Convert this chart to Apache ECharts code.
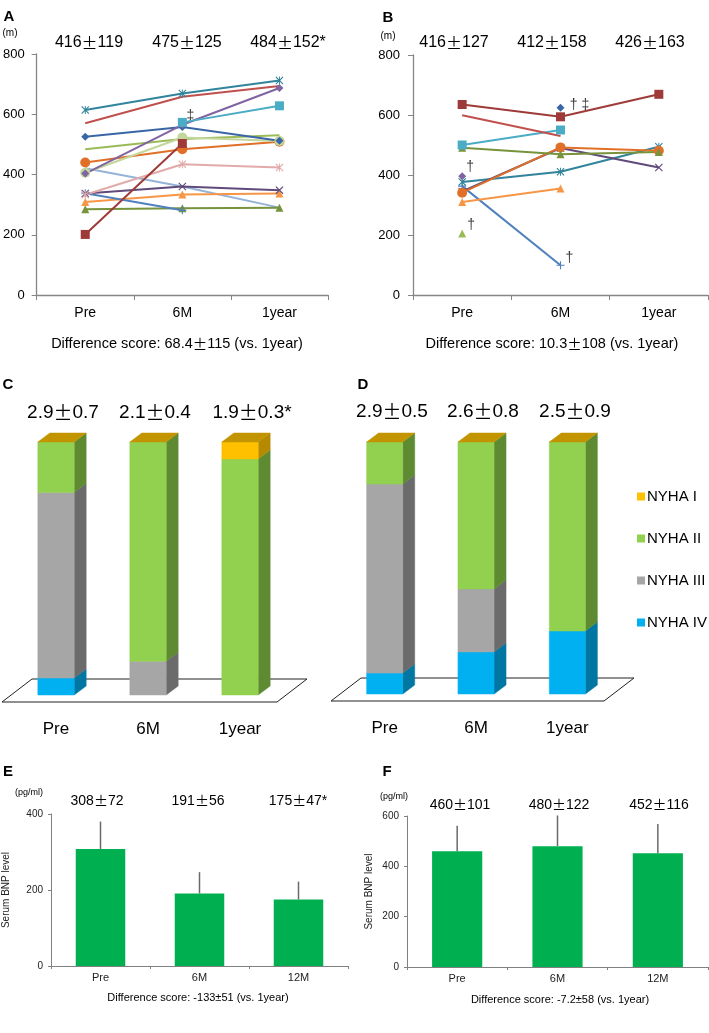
<!DOCTYPE html>
<html><head><meta charset="utf-8">
<script src="https://cdn.jsdelivr.net/npm/echarts@6/dist/echarts.min.js"></script>
<style>html,body{margin:0;padding:0;background:#fff}#c{width:709px;height:1033px}</style>
</head><body><div id="c"></div>
<script>
// ---------------- DATA ----------------
const timeCats = ['Pre', '6M', '1year'];
const bnpCats = ['Pre', '6M', '12M'];

// Panel A: 6-minute walk distance (m), responders
const aTeal = [614, 669, 712];
const aRed = [570, 658, 694];
const aPurple = [403, 565, 687];
const aCyan = [null, 573, 628];
const aBlue = [525, 558, 512];
const aGreen = [484, 518, 530];
const aPaleGreen = [406, 523, 511];
const aDarkRed = [201, 503, null];
const aOrange = [440, 484, 509];
const aPink = [333, 434, 423];
const aSteel = [421, 360, 290];
const aDarkPurple = [337, 360, 348];
const aLightOrange = [309, 334, 337];
const aOlive = [285, 288, 290];
const aBluePlus = [338, 281, null];

// Panel B: non-responders
const bDarkRed = [635, 594, 669];
const bRed = [599, 530, null];
const bCyan = [500, 550, null];
const bOlive = [491, 469, 477];
const bPurple = [345, 490, 425];
const bOrange = [341, 492, 481];
const bTeal = [377, 411, 494];
const bLightOrange = [310, 355, null];
const bBluePlus = [363, 99, null];
const bPurpleDiamond = [396, null, null];
const bGreenTri = [205, null, null];
const bBlueDiamond = [null, 624, null];

// annotation marks [category index, value, text]
const annA = [[1, 594, '‡']];
const annB = [[0, 426, '†'], [0, 232, '†'], [1, 122, '†'], [1, 633, '† ‡']];

const statsA = ['416±119', '475±125', '484±152*'];
const statsB = ['416±127', '412±158', '426±163'];
const diffA = 'Difference score: 68.4±115 (vs. 1year)';
const diffB = 'Difference score: 10.3±108 (vs. 1year)';

// Panels C/D: NYHA class distribution (%)
const nyhaNames = ['NYHA I', 'NYHA II', 'NYHA III', 'NYHA IV'];
const cNyha4 = [6.7, 0, 0];
const cNyha3 = [73.3, 13.3, 0];
const cNyha2 = [20.0, 86.7, 93.3];
const cNyha1 = [0, 0, 6.7];
const dNyha4 = [8.3, 16.7, 25.0];
const dNyha3 = [75.0, 25.0, 0];
const dNyha2 = [16.7, 58.3, 75.0];
const dNyha1 = [0, 0, 0];
const statsC = ['2.9±0.7', '2.1±0.4', '1.9±0.3*'];
const statsD = ['2.9±0.5', '2.6±0.8', '2.5±0.9'];

// Panels E/F: serum BNP (pg/ml)
const eMean = [308, 191, 175];
const eSD = [72, 56, 47];
const fMean = [460, 480, 452];
const fSD = [101, 122, 116];
const statsE = ['308±72', '191±56', '175±47*'];
const statsF = ['460±101', '480±122', '452±116'];
const diffE = 'Difference score: -133±51 (vs. 1year)';
const diffF = 'Difference score: -7.2±58 (vs. 1year)';

// ---------------- STYLE ----------------
const FONT = "'Liberation Sans', Arial, sans-serif";
const CJK = "'Noto Sans CJK JP', 'Liberation Sans', sans-serif";
const SYM_X = 'path://M1,0L5,4L9,0L10,1L6,5L10,9L9,10L5,6L1,10L0,9L4,5L0,1Z';
const SYM_AST = 'path://M1,0L5,4L9,0L10,1L6,5L10,9L9,10L5,6L1,10L0,9L4,5L0,1Z M4.4,0H5.6V10H4.4Z';
const SYM_PLUS = 'path://M4.3,0H5.7V4.3H10V5.7H5.7V10H4.3V5.7H0V4.3H4.3Z';
const AXC = '#868686';

const lineSpecsA = [
  [aSteel, '#95B3D7', 'none'],
  [aOlive, '#77933C', 'triangle'],
  [aLightOrange, '#F79646', 'triangle'],
  [aBluePlus, '#4F81BD', SYM_PLUS],
  [aDarkPurple, '#604A7B', SYM_X],
  [aPink, '#E2AAAA', SYM_AST],
  [aOrange, '#E07028', 'circle'],
  [aGreen, '#9BBB59', 'none'],
  [aPaleGreen, '#C3D69B', 'circle'],
  [aBlue, '#3A66A6', 'diamond'],
  [aDarkRed, '#9E3B38', 'rect'],
  [aPurple, '#8064A2', 'diamond'],
  [aCyan, '#4BACC6', 'rect'],
  [aRed, '#C0504D', 'none'],
  [aTeal, '#31849B', SYM_AST]
];
const lineSpecsB = [
  [bBluePlus, '#4F81BD', SYM_PLUS],
  [bLightOrange, '#F79646', 'triangle'],
  [bTeal, '#31849B', SYM_AST],
  [bPurple, '#604A7B', SYM_X],
  [bOrange, '#E07028', 'circle'],
  [bOlive, '#77933C', 'triangle'],
  [bCyan, '#4BACC6', 'rect'],
  [bRed, '#C0504D', 'none'],
  [bDarkRed, '#9E3B38', 'rect'],
  [bPurpleDiamond, '#8064A2', 'diamond'],
  [bGreenTri, '#9BBB59', 'triangle'],
  [bBlueDiamond, '#3A66A6', 'diamond']
];
const annOffA = [[8, 0]];
const annOffB = [[8, 0], [9, 0], [9, 0], [19, 0]];

const nyhaFront = ['#FFC000', '#92D050', '#A6A6A6', '#00B0F0'];
const nyhaSide = ['#B58A00', '#5E8A32', '#6B6B6B', '#0077A3'];
const TOPFACE = '#C29400';
const BAR_FRAC = 0.395, DX = 12, DY = 9;

// ---------------- BUILD ----------------
const grids = [
  { left: 32, top: 54, width: 296, height: 241 },    // A
  { left: 413, top: 55, width: 295, height: 240 },   // B
  { left: 10, top: 442, width: 276, height: 253 },   // C
  { left: 339, top: 442, width: 274, height: 252 },  // D
  { left: 46, top: 814, width: 302, height: 152 },   // E
  { left: 407, top: 816, width: 301, height: 151 }   // F
];

function lineAxisX(gi) {
  return { type: 'category', gridIndex: gi, data: timeCats, boundaryGap: true,
    axisLine: { lineStyle: { color: AXC, width: 1.3 } },
    axisTick: { show: true, length: 5, lineStyle: { color: AXC } },
    axisLabel: { color: '#000', fontSize: 14, fontFamily: FONT, margin: 11 } };
}
function lineAxisY(gi, margin) {
  return { type: 'value', gridIndex: gi, min: 0, max: 800, interval: 200,
    axisLine: { show: true, lineStyle: { color: AXC, width: 1.3 } },
    axisTick: { show: true, length: 5, lineStyle: { color: AXC } },
    splitLine: { show: false },
    axisLabel: { color: '#000', fontSize: 13, fontFamily: FONT, margin: margin } };
}
function nyhaAxisX(gi) {
  return { type: 'category', gridIndex: gi, data: timeCats, boundaryGap: true,
    axisLine: { show: false }, axisTick: { show: false },
    axisLabel: { color: '#000', fontSize: 17, fontFamily: FONT, margin: 26 } };
}
function nyhaAxisY(gi) {
  return { type: 'value', gridIndex: gi, min: 0, max: 100, show: false, splitLine: { show: false } };
}
function bnpAxisX(gi) {
  return { type: 'category', gridIndex: gi, data: bnpCats, boundaryGap: true,
    axisLine: { lineStyle: { color: '#808080' } },
    axisTick: { show: true, length: 3, lineStyle: { color: '#808080' } },
    axisLabel: { color: '#222', fontSize: 11, fontFamily: FONT, margin: 6 } };
}
function bnpAxisY(gi, max, gap) {
  return { type: 'value', gridIndex: gi, min: 0, max: max, interval: 200,
    name: 'Serum BNP level', nameLocation: 'middle', nameRotate: 90, nameGap: gap,
    nameTextStyle: { color: '#222', fontSize: 10, fontFamily: FONT },
    axisLine: { show: true, lineStyle: { color: '#808080' } },
    axisTick: { show: true, length: 3, lineStyle: { color: '#808080' } },
    splitLine: { show: false },
    axisLabel: { color: '#222', fontSize: 10, fontFamily: FONT, margin: 8 } };
}

const series = [];
function addLines(specs, axisIdx) {
  specs.forEach(([data, color, sym]) => {
    series.push({ type: 'line', xAxisIndex: axisIdx, yAxisIndex: axisIdx, data: data,
      symbol: sym, symbolSize: sym === 'circle' ? 10 : (sym === 'rect' ? 9 : 8),
      showAllSymbol: true, connectNulls: false,
      lineStyle: { color: color, width: 2 }, itemStyle: { color: color },
      emphasis: { disabled: true }, silent: true, animation: false });
  });
}
addLines(lineSpecsA, 0);
addLines(lineSpecsB, 1);

function addAnn(ann, offs, axisIdx) {
  series.push({ type: 'scatter', xAxisIndex: axisIdx, yAxisIndex: axisIdx,
    data: ann.map(a => [a[0], a[1]]), symbolSize: 0, silent: true, animation: false,
    label: { show: true, position: 'inside', color: '#000', fontSize: 14, fontFamily: FONT,
      formatter: p => ann[p.dataIndex][2] },
    labelLayout: p => ({ dx: offs[p.dataIndex][0], dy: offs[p.dataIndex][1] }) });
}
addAnn(annA, annOffA, 0);
addAnn(annB, annOffB, 1);

// 3D stacked bars
function floorSeries(axisIdx) {
  return { type: 'custom', xAxisIndex: axisIdx, yAxisIndex: axisIdx, data: [[0, 0]], silent: true, z: 1,
    animation: false,
    renderItem: (params, api) => {
      const cs = params.coordSys;
      const yb = cs.y + cs.height;
      return { type: 'polygon',
        shape: { points: [[cs.x + 22, yb - 16], [cs.x + cs.width + 21, yb - 16], [cs.x + cs.width - 9, yb + 7], [cs.x - 8, yb + 7]] },
        style: { fill: '#fff', stroke: '#222', lineWidth: 1 } };
    } };
}
function barSeries(axisIdx, name, vals, bases, k) {
  return { type: 'custom', name: name, xAxisIndex: axisIdx, yAxisIndex: axisIdx, z: 3,
    itemStyle: { color: nyhaFront[k] }, animation: false, silent: true,
    data: vals.map((v, i) => [i, v, bases[i]]),
    renderItem: (params, api) => {
      const i = api.value(0), v = api.value(1), b = api.value(2);
      if (!v) return null;
      const p0 = api.coord([i, b]), p1 = api.coord([i, b + v]);
      const w = api.size([1, 0])[0] * BAR_FRAC;
      const xl = p0[0] - w / 2, xr = p0[0] + w / 2;
      return { type: 'group', children: [
        { type: 'polygon', shape: { points: [[xr, p0[1]], [xr + DX, p0[1] - DY], [xr + DX, p1[1] - DY], [xr, p1[1]]] },
          style: { fill: nyhaSide[k], stroke: nyhaSide[k], lineWidth: 0.5 } },
        { type: 'rect', shape: { x: xl, y: p1[1], width: w, height: p0[1] - p1[1] },
          style: { fill: nyhaFront[k], stroke: nyhaFront[k], lineWidth: 0.5 } }
      ] };
    } };
}
function capSeries(axisIdx, tops) {
  return { type: 'custom', xAxisIndex: axisIdx, yAxisIndex: axisIdx, z: 4, silent: true, animation: false,
    data: tops.map((t, i) => [i, t]),
    renderItem: (params, api) => {
      const p = api.coord([api.value(0), api.value(1)]);
      const w = api.size([1, 0])[0] * BAR_FRAC;
      const xl = p[0] - w / 2, xr = p[0] + w / 2;
      return { type: 'polygon', shape: { points: [[xl, p[1]], [xr, p[1]], [xr + DX, p[1] - DY], [xl + DX, p[1] - DY]] },
        style: { fill: TOPFACE, stroke: TOPFACE, lineWidth: 0.5 } };
    } };
}
function addNyha(axisIdx, n1, n2, n3, n4) {
  series.push(floorSeries(axisIdx));
  const stacks = [n4, n3, n2, n1];
  const ks = [3, 2, 1, 0];
  let bases = [0, 0, 0];
  stacks.forEach((vals, j) => {
    series.push(barSeries(axisIdx, nyhaNames[ks[j]], vals, bases.slice(), ks[j]));
    bases = bases.map((b, i) => b + vals[i]);
  });
  series.push(capSeries(axisIdx, bases));
}
addNyha(2, cNyha1, cNyha2, cNyha3, cNyha4);
addNyha(3, dNyha1, dNyha2, dNyha3, dNyha4);

// BNP bars with error bars
function addBnp(axisIdx, mean, sd) {
  series.push({ type: 'bar', xAxisIndex: axisIdx, yAxisIndex: axisIdx, data: mean, barWidth: '50%',
    itemStyle: { color: '#00B050' }, silent: true, animation: false });
  series.push({ type: 'custom', xAxisIndex: axisIdx, yAxisIndex: axisIdx, silent: true, animation: false, z: 5,
    data: mean.map((m, i) => [i, m, sd[i]]),
    renderItem: (params, api) => {
      const a = api.coord([api.value(0), api.value(1)]);
      const b = api.coord([api.value(0), api.value(1) + api.value(2)]);
      return { type: 'line', shape: { x1: a[0], y1: a[1], x2: b[0], y2: b[1] },
        style: { stroke: '#6A6A6A', lineWidth: 1.5 } };
    } });
}
addBnp(4, eMean, eSD);
addBnp(5, fMean, fSD);

// ---------------- TEXT ----------------
const graphics = [];
function txt(x, y, text, size, opts) {
  opts = opts || {};
  const style = { text: text, fill: opts.color || '#000',
    font: (opts.bold ? 'bold ' : '') + size + 'px ' + FONT,
    textAlign: 'center', textVerticalAlign: 'middle', align: 'center', verticalAlign: 'middle' };
  if (opts.widePm) {
    style.text = text.split('±').join('{p|±}');
    style.rich = { p: { fontSize: size, fontFamily: CJK, fill: opts.color || '#000' } };
  }
  graphics.push({ type: 'text', x: x, y: y, silent: true, style: style });
}
txt(9, 17, 'A', 15, { bold: true });
txt(10, 33, '(m)', 10);
txt(388, 18, 'B', 15, { bold: true });
txt(388, 36, '(m)', 10);
[89, 187, 288].forEach((x, i) => txt(x, 43, statsA[i], 16, { widePm: true }));
[454, 552, 650].forEach((x, i) => txt(x, 43, statsB[i], 16, { widePm: true }));
txt(177, 344, diffA, 14.5, { widePm: true });
txt(552, 344, diffB, 14.5, { widePm: true });

txt(8, 385, 'C', 15, { bold: true });
txt(363, 385, 'D', 15, { bold: true });
[63, 155, 252].forEach((x, i) => txt(x, 413, statsC[i], 19, { widePm: true }));
[392, 483, 575].forEach((x, i) => txt(x, 412, statsD[i], 19, { widePm: true }));

txt(8, 772, 'E', 15, { bold: true });
txt(387, 772, 'F', 15, { bold: true });
txt(29, 793, '(pg/ml)', 9);
txt(394, 797, '(pg/ml)', 9);
[97, 198, 298].forEach((x, i) => txt(x, 801, statsE[i], 14, { widePm: true }));
[460, 559, 659].forEach((x, i) => txt(x, 805, statsF[i], 14, { widePm: true }));
txt(198, 998, diffE, 11);
txt(560, 1000, diffF, 11);

const option = {
  backgroundColor: '#fff',
  animation: false,
  textStyle: { fontFamily: FONT },
  grid: grids.map(g => Object.assign({ containLabel: false }, g)),
  xAxis: [lineAxisX(0), lineAxisX(1), nyhaAxisX(2), nyhaAxisX(3), bnpAxisX(4), bnpAxisX(5)],
  yAxis: [lineAxisY(0, 12), lineAxisY(1, 13), nyhaAxisY(2), nyhaAxisY(3), bnpAxisY(4, 400, 40), bnpAxisY(5, 600, 33)],
  legend: { data: nyhaNames, orient: 'vertical', left: 637, top: 489, padding: 0, itemWidth: 8, itemHeight: 8, itemGap: 27,
    icon: 'rect', selectedMode: false,
    textStyle: { color: '#000', fontSize: 15, fontFamily: FONT, padding: [0, 0, 0, -3] } },
  series: series,
  graphic: graphics
};
const chart = echarts.init(document.getElementById('c'), null, { renderer: 'canvas' });
chart.setOption(option);
</script></body></html>
